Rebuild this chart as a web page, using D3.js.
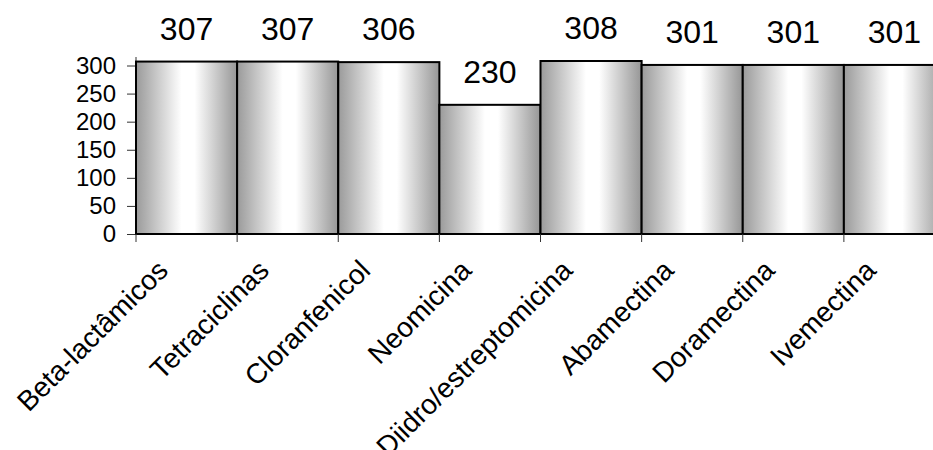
<!DOCTYPE html>
<html>
<head>
<meta charset="utf-8">
<script src="https://cdn.jsdelivr.net/npm/d3@7"></script>
<style>
  html, body { margin: 0; padding: 0; background: #fff; }
  svg { display: block; font-family: "Liberation Sans", Arial, sans-serif; }
</style>
</head>
<body>
<svg id="chart" width="933" height="450"></svg>
<script>
const categories = ["Beta-lactâmicos", "Tetraciclinas", "Cloranfenicol", "Neomicina", "Diidro/estreptomicina", "Abamectina", "Doramectina", "Ivemectina"];
const values = [307, 307, 306, 230, 308, 301, 301, 301];
const yTicks = [0, 50, 100, 150, 200, 250, 300];

(function () {
const svg = d3.select("#chart");
const mLeft = 136, mRight = 945, mTop = 65.5, mBottom = 234;

const x = d3.scaleBand().domain(d3.range(categories.length)).range([mLeft, mRight]).paddingInner(0).paddingOuter(0);
const y = d3.scaleLinear().domain([0, 300]).range([mBottom, mTop]);

const defs = svg.append("defs");
const grad = defs.append("linearGradient").attr("id", "barGrad")
  .attr("x1", "0%").attr("x2", "100%").attr("y1", "0%").attr("y2", "0%");
[[0, "#9a9a9a"], [0.45, "#ffffff"], [0.58, "#ffffff"], [1, "#969696"]].forEach(([o, c]) =>
  grad.append("stop").attr("offset", o).attr("stop-color", c));

// y axis
const yAxis = d3.axisLeft(y).tickValues(yTicks).tickSize(9).tickPadding(11);
const yg = svg.append("g").attr("transform", `translate(${mLeft},0)`).call(yAxis);
yg.select(".domain").remove();
yg.selectAll(".tick line").attr("stroke", "#333").attr("stroke-width", 1);
yg.selectAll(".tick text").attr("font-size", 24).attr("fill", "#000")
  .attr("font-family", "'Liberation Sans', Arial, sans-serif");
svg.append("line").attr("x1", mLeft).attr("x2", mLeft).attr("y1", 57).attr("y2", mBottom)
  .attr("stroke", "#333").attr("stroke-width", 1);

// bars
svg.append("g").selectAll("rect").data(values).join("rect")
  .attr("x", (d, i) => x(i))
  .attr("y", d => y(d))
  .attr("width", x.bandwidth())
  .attr("height", d => mBottom - y(d))
  .attr("fill", "url(#barGrad)")
  .attr("stroke", "#000")
  .attr("stroke-width", 2);

// x axis
const xAxisScale = d3.scaleLinear().domain([0, categories.length]).range([mLeft, mRight]);
svg.append("line").attr("x1", mLeft).attr("x2", 933).attr("y1", mBottom).attr("y2", mBottom)
  .attr("stroke", "#000").attr("stroke-width", 2);
svg.append("g").selectAll("line").data(d3.range(categories.length)).join("line")
  .attr("x1", d => xAxisScale(d)).attr("x2", d => xAxisScale(d))
  .attr("y1", mBottom).attr("y2", mBottom + 8)
  .attr("stroke", "#333").attr("stroke-width", 1);

// value labels
svg.append("g").selectAll("text").data(values).join("text")
  .attr("x", (d, i) => x(i) + x.bandwidth() / 2)
  .attr("y", d => y(d) - 22)
  .attr("text-anchor", "middle")
  .attr("font-size", 32)
  .attr("fill", "#000")
  .text(d => d);

// category labels
svg.append("g").selectAll("text").data(categories).join("text")
  .attr("transform", (d, i) => `translate(${x(i) + x.bandwidth() / 2 - 17},${mBottom + 38}) rotate(-45)`)
  .attr("text-anchor", "end")
  .attr("font-size", 28)
  .attr("fill", "#000")
  .text(d => d);
})();
</script>
</body>
</html>
